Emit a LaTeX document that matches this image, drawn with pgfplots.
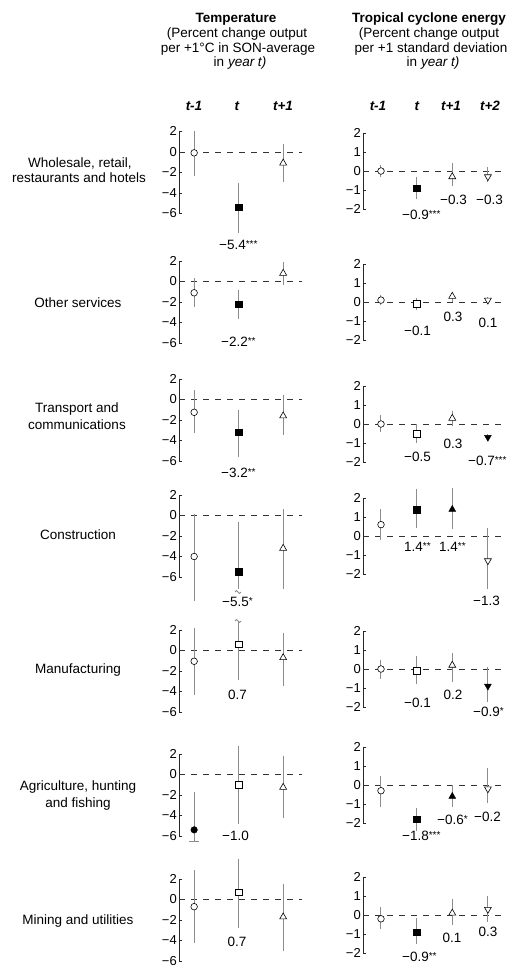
\documentclass[border=0pt]{standalone}
\usepackage{pgfplots}
\pgfplotsset{compat=1.18}
\usepackage{fontspec}
\setmainfont{Liberation Sans}
\newcommand{\st}[1]{\raisebox{2.6pt}{\fontsize{10}{10}\selectfont #1}}
\begin{document}
\fontsize{13.5pt}{15pt}\selectfont
\begin{tikzpicture}[x=1pt,y=1pt]
\useasboundingbox (0,0) rectangle (511,-967);
\pgfplotsset{
  base/.style={
    scale only axis, clip=false,
    axis x line=none, axis y line=left,
    axis line style={-, line width=0.6pt, black!85},
    tick align=inside, major tick length=3pt,
    ytick style={line width=0.6pt, black!85},
    yticklabel style={font=\fontsize{13pt}{14pt}\selectfont, inner sep=2pt},
    anchor=south west,
  },
  L/.style={base, xmin=0.66, xmax=3.43, width=123.3pt, height=82pt, ymin=-6, ymax=2,
    ytick={-6,-4,-2,0,2}, yticklabels={−6,−4,−2,0,2}},
  R/.style={base, xmin=0.495, xmax=4.48, width=142pt, height=76pt, ymin=-2, ymax=2,
    ytick={-2,-1,0,1,2}, yticklabels={−2,−1,0,1,2}},
  zero/.style={dash pattern=on 6pt off 6pt, line width=0.6pt, black!80},
  bar/.style={line width=1pt, black!45},
  oc/.style={only marks, mark=*, mark size=3.3pt, mark options={fill=white, draw=black, line width=0.6pt}},
  fc/.style={only marks, mark=*, mark size=3.3pt, mark options={fill=black, draw=black}},
  os/.style={only marks, mark=square*, mark size=3.3pt, mark options={fill=white, draw=black, line width=0.6pt}},
  fs/.style={only marks, mark=square*, mark size=3.3pt, mark options={fill=black, draw=black}},
  ot/.style={only marks, mark=triangle*, mark size=4pt, mark options={fill=white, draw=black, line width=0.6pt}},
  ft/.style={only marks, mark=triangle*, mark size=4pt, mark options={fill=black, draw=black}},
  od/.style={only marks, mark=triangle*, mark size=4pt, mark options={rotate=180, fill=white, draw=black, line width=0.6pt}},
  fd/.style={only marks, mark=triangle*, mark size=4pt, mark options={rotate=180, fill=black, draw=black}},
}

% ---------------- Temperature panels ----------------
% P1 Wholesale
\begin{axis}[L, at={(179pt,-213.3pt)}]
\addplot[zero] coordinates {(0.66,0) (3.43,0)};
\addplot[bar] coordinates {(1,2.0) (1,-2.4)};
\addplot[bar] coordinates {(2,-3.05) (2,-7.95)};
\addplot[bar] coordinates {(3,0.72) (3,-2.9)};
\addplot[oc] coordinates {(1,-0.1)};
\addplot[fs] coordinates {(2,-5.4)};
\addplot[ot] coordinates {(3,-1.1)};
\end{axis}
% P2 Other services
\begin{axis}[L, at={(179pt,-343pt)}]
\addplot[zero] coordinates {(0.66,0) (3.43,0)};
\addplot[bar] coordinates {(1,0.3) (1,-2.5)};
\addplot[bar] coordinates {(2,-0.8) (2,-3.7)};
\addplot[bar] coordinates {(3,1.9) (3,-0.3)};
\addplot[oc] coordinates {(1,-1.1)};
\addplot[fs] coordinates {(2,-2.2)};
\addplot[ot] coordinates {(3,0.8)};
\end{axis}
% P3 Transport
\begin{axis}[L, at={(179pt,-461pt)}]
\addplot[zero] coordinates {(0.66,0) (3.43,0)};
\addplot[bar] coordinates {(1,0.9) (1,-3.3)};
\addplot[bar] coordinates {(2,-1.05) (2,-5.6)};
\addplot[bar] coordinates {(3,0.4) (3,-3.5)};
\addplot[oc] coordinates {(1,-1.25)};
\addplot[fs] coordinates {(2,-3.2)};
\addplot[ot] coordinates {(3,-1.6)};
\end{axis}
% P4 Construction
\begin{axis}[L, at={(179pt,-577pt)}]
\addplot[zero] coordinates {(0.66,0) (3.43,0)};
\addplot[bar] coordinates {(1,0.1) (1,-8.3)};
\addplot[bar] coordinates {(2,-0.6) (2,-7.2)};
\addplot[bar] coordinates {(3,0.6) (3,-7.2)};
\addplot[oc] coordinates {(1,-4.0)};
\addplot[fs] coordinates {(2,-5.5)};
\addplot[ot] coordinates {(3,-3.2)};
\end{axis}
% P5 Manufacturing
\begin{axis}[L, at={(179pt,-712pt)}]
\addplot[zero] coordinates {(0.66,0) (3.43,0)};
\addplot[bar] coordinates {(1,2.2) (1,-4.35)};
\addplot[bar] coordinates {(2,2.8) (2,-2.9)};
\addplot[bar] coordinates {(3,1.75) (3,-3.5)};
\addplot[oc] coordinates {(1,-1.05)};
\addplot[os] coordinates {(2,0.6)};
\addplot[ot] coordinates {(3,-0.7)};
\end{axis}
% P6 Agriculture
\begin{axis}[L, at={(179pt,-836pt)}]
\addplot[zero] coordinates {(0.66,0) (3.43,0)};
\addplot[bar] coordinates {(1,-1.75) (1,-6.5)};
\addplot[bar] coordinates {(0.88,-6.5) (1.12,-6.5)};
\addplot[bar] coordinates {(2,2.8) (2,-4.8)};
\addplot[bar] coordinates {(3,1.85) (3,-4.25)};
\addplot[fc] coordinates {(1,-5.4)};
\addplot[os] coordinates {(2,-1.0)};
\addplot[ot] coordinates {(3,-1.25)};
\end{axis}
% P7 Mining
\begin{axis}[L, at={(179pt,-961pt)}]
\addplot[zero] coordinates {(0.66,0) (3.43,0)};
\addplot[bar] coordinates {(1,2.85) (1,-4.2)};
\addplot[bar] coordinates {(2,4.0) (2,-2.75)};
\addplot[bar] coordinates {(3,1.5) (3,-5.0)};
\addplot[oc] coordinates {(1,-0.7)};
\addplot[os] coordinates {(2,0.7)};
\addplot[ot] coordinates {(3,-1.7)};
\end{axis}

% ---------------- Tropical cyclone panels ----------------
% R1
\begin{axis}[R, at={(363pt,-209pt)}]
\addplot[zero] coordinates {(0.495,0) (4.48,0)};
\addplot[bar] coordinates {(1,0.3) (1,-0.3)};
\addplot[bar] coordinates {(2,-0.3) (2,-1.45)};
\addplot[bar] coordinates {(3,0.4) (3,-0.8)};
\addplot[bar] coordinates {(4,0.2) (4,-0.6)};
\addplot[oc] coordinates {(1,0.0)};
\addplot[fs] coordinates {(2,-0.9)};
\addplot[ot] coordinates {(3,-0.3)};
\addplot[od] coordinates {(4,-0.3)};
\end{axis}
% R2
\begin{axis}[R, at={(363pt,-340pt)}]
\addplot[zero] coordinates {(0.495,0) (4.48,0)};
\addplot[bar] coordinates {(1,0.35) (1,-0.15)};
\addplot[bar] coordinates {(2,0.2) (2,-0.4)};
\addplot[bar] coordinates {(3,0.55) (3,0.0)};
\addplot[bar] coordinates {(4,0.25) (4,-0.05)};
\addplot[oc] coordinates {(1,0.1)};
\addplot[os] coordinates {(2,-0.1)};
\addplot[ot] coordinates {(3,0.3)};
\addplot[od] coordinates {(4,0.1)};
\end{axis}
% R3
\begin{axis}[R, at={(363pt,-462pt)}]
\addplot[zero] coordinates {(0.495,0) (4.48,0)};
\addplot[bar] coordinates {(1,0.5) (1,-0.4)};
\addplot[bar] coordinates {(2,0.0) (2,-1.0)};
\addplot[bar] coordinates {(3,0.7) (3,-0.1)};
\addplot[bar] coordinates {(4,-0.5) (4,-0.9)};
\addplot[oc] coordinates {(1,0.0)};
\addplot[os] coordinates {(2,-0.5)};
\addplot[ot] coordinates {(3,0.3)};
\addplot[fd] coordinates {(4,-0.7)};
\end{axis}
% R4
\begin{axis}[R, at={(363pt,-574pt)}]
\addplot[zero] coordinates {(0.495,0) (4.48,0)};
\addplot[bar] coordinates {(1,1.4) (1,-0.2)};
\addplot[bar] coordinates {(2,2.5) (2,0.4)};
\addplot[bar] coordinates {(3,2.55) (3,0.35)};
\addplot[bar] coordinates {(4,0.4) (4,-2.8)};
\addplot[oc] coordinates {(1,0.6)};
\addplot[fs] coordinates {(2,1.4)};
\addplot[ft] coordinates {(3,1.4)};
\addplot[od] coordinates {(4,-1.3)};
\end{axis}
% R5
\begin{axis}[R, at={(363pt,-707pt)}]
\addplot[zero] coordinates {(0.495,0) (4.48,0)};
\addplot[bar] coordinates {(1,0.5) (1,-0.55)};
\addplot[bar] coordinates {(2,0.7) (2,-0.8)};
\addplot[bar] coordinates {(3,0.85) (3,-0.7)};
\addplot[bar] coordinates {(4,0.1) (4,-1.75)};
\addplot[oc] coordinates {(1,0.0)};
\addplot[os] coordinates {(2,-0.1)};
\addplot[ot] coordinates {(3,0.2)};
\addplot[fd] coordinates {(4,-0.9)};
\end{axis}
% R6
\begin{axis}[R, at={(363pt,-823pt)}]
\addplot[zero] coordinates {(0.495,0) (4.48,0)};
\addplot[bar] coordinates {(1,0.5) (1,-1.15)};
\addplot[bar] coordinates {(2,-1.2) (2,-2.4)};
\addplot[bar] coordinates {(3,0.0) (3,-1.15)};
\addplot[bar] coordinates {(4,0.9) (4,-0.95)};
\addplot[oc] coordinates {(1,-0.3)};
\addplot[fs] coordinates {(2,-1.8)};
\addplot[ft] coordinates {(3,-0.6)};
\addplot[od] coordinates {(4,-0.2)};
\end{axis}
% R7
\begin{axis}[R, at={(363pt,-953pt)}]
\addplot[zero] coordinates {(0.495,0) (4.48,0)};
\addplot[bar] coordinates {(1,0.4) (1,-0.75)};
\addplot[bar] coordinates {(2,-0.15) (2,-1.55)};
\addplot[bar] coordinates {(3,0.85) (3,-0.5)};
\addplot[bar] coordinates {(4,1.0) (4,-0.35)};
\addplot[oc] coordinates {(1,-0.2)};
\addplot[fs] coordinates {(2,-0.9)};
\addplot[ot] coordinates {(3,0.1)};
\addplot[od] coordinates {(4,0.3)};
\end{axis}

% break symbols on truncated bars
\draw[black!45, line width=0.8pt] (235,-592) sin (236.5,-590.5) cos (238,-592) sin (239.5,-593.5) cos (241,-592);
\draw[black!45, line width=0.8pt] (235,-621) sin (236.5,-619.5) cos (238,-621) sin (239.5,-622.5) cos (241,-621);

% ---------------- headers ----------------
\node[anchor=base, inner sep=0] at (236,-22.8) {\textbf{Temperature}};
\node[anchor=base, inner sep=0] at (237,-37.8) {(Percent change output};
\node[anchor=base, inner sep=0] at (238,-52.3) {per +1°C in SON-average};
\node[anchor=base, inner sep=0] at (240,-66.8) {in \textit{year t)}};
\node[anchor=base, inner sep=0] at (429,-22.8) {\textbf{Tropical cyclone energy}};
\node[anchor=base, inner sep=0] at (429,-37.8) {(Percent change output};
\node[anchor=base, inner sep=0] at (431,-52.3) {per +1 standard deviation};
\node[anchor=base, inner sep=0] at (433,-66.8) {in \textit{year t)}};
\foreach \x/\t in {194/t-1, 237/t, 283/t+1, 378/t-1, 417/t, 451/t+1, 490/t+2}
  \node[anchor=base, inner sep=0] at (\x,-110.8) {\textbf{\textit{\t}}};

% ---------------- row labels ----------------
\node[anchor=base, inner sep=0] at (80,-167.8) {Wholesale, retail,};
\node[anchor=base, inner sep=0] at (79,-182.8) {restaurants and hotels};
\node[anchor=base, inner sep=0] at (78,-307.8) {Other services};
\node[anchor=base, inner sep=0] at (77,-412.8) {Transport and};
\node[anchor=base, inner sep=0] at (77,-429.8) {communications};
\node[anchor=base, inner sep=0] at (78,-539.8) {Construction};
\node[anchor=base, inner sep=0] at (78,-673.8) {Manufacturing};
\node[anchor=base, inner sep=0] at (78,-790.8) {Agriculture, hunting};
\node[anchor=base, inner sep=0] at (78,-807.8) {and fishing};
\node[anchor=base, inner sep=0] at (78,-924.8) {Mining and utilities};

% ---------------- value labels ----------------
\node[anchor=base west, inner sep=0] at (219,-249.8) {−5.4\st{***}};
\node[anchor=base west, inner sep=0] at (221,-346.8) {−2.2\st{**}};
\node[anchor=base west, inner sep=0] at (221,-477.8) {−3.2\st{**}};
\node[anchor=base west, inner sep=0] at (222,-606.8) {−5.5\st{*}};
\node[anchor=base, inner sep=0] at (237.5,-699.8) {0.7};
\node[anchor=base, inner sep=0] at (235.5,-840.8) {−1.0};
\node[anchor=base, inner sep=0] at (237,-946.8) {0.7};

\node[anchor=base west, inner sep=0] at (402,-219.8) {−0.9\st{***}};
\node[anchor=base west, inner sep=0] at (440,-204.8) {−0.3};
\node[anchor=base west, inner sep=0] at (476,-204.8) {−0.3};
\node[anchor=base west, inner sep=0] at (404,-335.8) {−0.1};
\node[anchor=base, inner sep=0] at (453,-321.8) {0.3};
\node[anchor=base, inner sep=0] at (488,-327.8) {0.1};
\node[anchor=base west, inner sep=0] at (404,-461.8) {−0.5};
\node[anchor=base, inner sep=0] at (453,-448.8) {0.3};
\node[anchor=base west, inner sep=0] at (468,-465.8) {−0.7\st{***}};
\node[anchor=base west, inner sep=0] at (404,-551.8) {1.4\st{**}};
\node[anchor=base west, inner sep=0] at (439,-551.8) {1.4\st{**}};
\node[anchor=base west, inner sep=0] at (473,-605.8) {−1.3};
\node[anchor=base west, inner sep=0] at (404,-707.8) {−0.1};
\node[anchor=base, inner sep=0] at (453,-699.8) {0.2};
\node[anchor=base west, inner sep=0] at (473,-716.8) {−0.9\st{*}};
\node[anchor=base west, inner sep=0] at (402,-840.8) {−1.8\st{***}};
\node[anchor=base west, inner sep=0] at (437,-824.8) {−0.6\st{*}};
\node[anchor=base west, inner sep=0] at (474,-821.8) {−0.2};
\node[anchor=base west, inner sep=0] at (402,-961.8) {−0.9\st{**}};
\node[anchor=base, inner sep=0] at (452,-942.8) {0.1};
\node[anchor=base, inner sep=0] at (488,-936.8) {0.3};
\end{tikzpicture}
\end{document}
